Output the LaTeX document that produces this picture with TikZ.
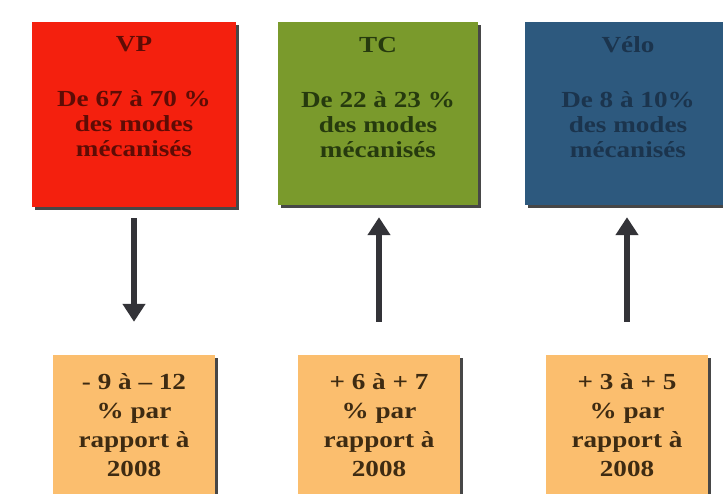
\documentclass[tikz,border=0pt]{standalone}
\usepackage{fontspec}
\setmainfont{Liberation Serif}[FakeStretch=1.18]
\usetikzlibrary{arrows.meta,shadows}
\definecolor{vpred}{HTML}{F4200E}
\definecolor{tcgreen}{HTML}{7A9A2C}
\definecolor{veloblue}{HTML}{2D597E}
\definecolor{orangebox}{HTML}{FBBE6E}
\definecolor{vptext}{HTML}{5E0C05}
\definecolor{tctext}{HTML}{263A0E}
\definecolor{velotext}{HTML}{1B344D}
\definecolor{bottext}{HTML}{3E2B12}
\definecolor{arrowgray}{HTML}{333338}
\tikzset{
  topbox/.style={inner sep=0pt, minimum height=185pt,
    drop shadow={shadow xshift=2.5pt, shadow yshift=-2.5pt, fill=black!80, opacity=0.9}},
  botbox/.style={inner sep=0pt, fill=orangebox, minimum width=162pt, minimum height=145pt,
    drop shadow={shadow xshift=3pt, shadow yshift=-3pt, fill=black!80, opacity=0.9}},
  toptext/.style={align=center, inner sep=0pt, font=\fontsize{23}{25}\selectfont\bfseries},
  bottxt/.style={align=center, inner sep=0pt, text=bottext, font=\fontsize{23}{29}\selectfont\bfseries},
  trend/.style={draw=arrowgray, line width=6pt, -{Triangle[width=22pt,length=18pt]}}
}
\begin{document}
\begin{tikzpicture}[x=1pt,y=-1pt]
\clip (0,0) rectangle (723,493);
\fill[white] (0,0) rectangle (723,493);
% top boxes
\node[topbox, fill=vpred, minimum width=204pt] (vp) at (134,114.5) {};
\node[topbox, fill=tcgreen, minimum width=200pt, minimum height=183pt] (tc) at (378,113.5) {};
\node[topbox, fill=veloblue, minimum width=215pt, minimum height=183pt] (velo) at (632.5,113.5) {};
\node[toptext, text=vptext] (vpl) at (134,97) {VP\\[30pt]De 67 à 70 \%\\des modes\\mécanisés};
\node[toptext, text=tctext] (tcl) at (378,97) {TC\\[30pt]De 22 à 23 \%\\des modes\\mécanisés};
\node[toptext, text=velotext] (velol) at (628,97) {Vélo\\[30pt]De 8 à 10\%\\des modes\\mécanisés};
% bottom boxes
\node[botbox] (b1) at (134,427.5) {};
\node[botbox] (b2) at (379,427.5) {};
\node[botbox] (b3) at (627,427.5) {};
\node[bottxt] (b1l) at (134,425) {- 9 à – 12\\\% par\\rapport à\\2008};
\node[bottxt] (b2l) at (379,425) {+ 6 à + 7\\\% par\\rapport à\\2008};
\node[bottxt] (b3l) at (627,425) {+ 3 à + 5\\\% par\\rapport à\\2008};
% arrows
\draw[trend, shorten <=11pt, shorten >=33pt] (b1.north |- vp.south) -- (b1.north);
\draw[trend, shorten <=33pt, shorten >=12pt] (b2.north) -- (b2.north |- tc.south);
\draw[trend, shorten <=33pt, shorten >=12pt] (b3.north) -- (b3.north |- velo.south);
\end{tikzpicture}
\end{document}
